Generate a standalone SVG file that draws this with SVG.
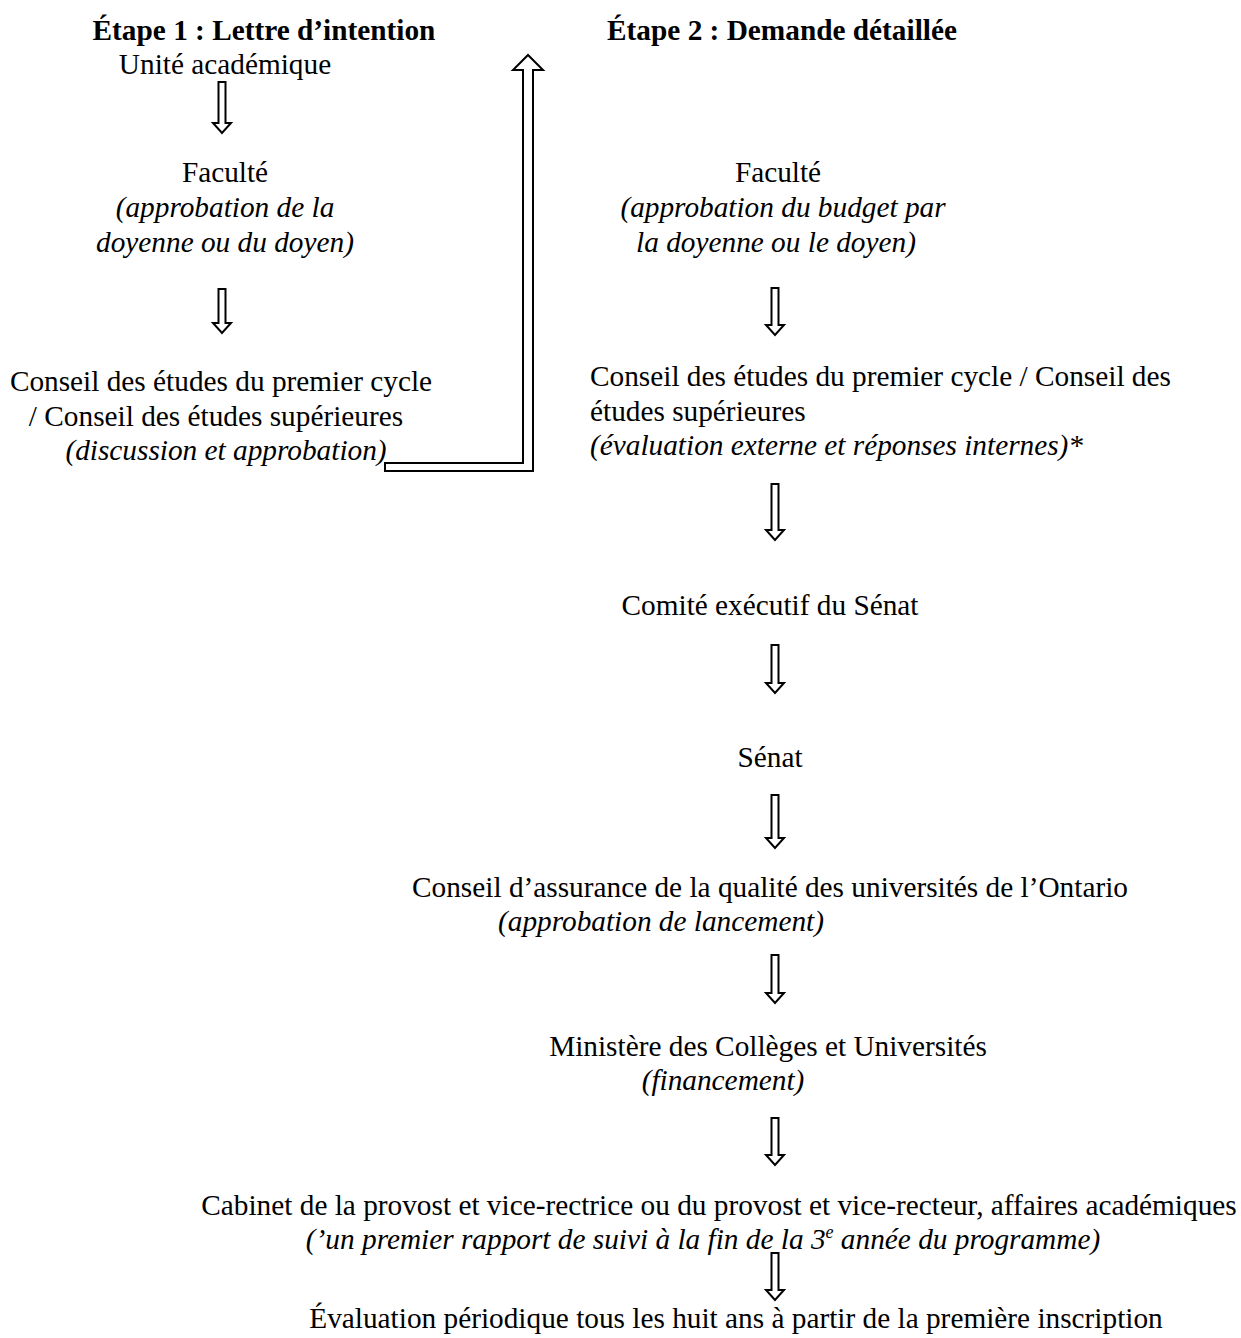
<svg xmlns="http://www.w3.org/2000/svg" width="1241" height="1338" viewBox="0 0 1241 1338">
<style>
text{font-family:"Liberation Serif","Times New Roman",serif;font-size:29.3px;fill:#000}
.b{font-weight:bold}
.i{font-style:italic}
.m{text-anchor:middle}
.arr{fill:#fff;stroke:#000;stroke-width:2;stroke-linejoin:miter}
</style>
<rect width="1241" height="1338" fill="#fff"/>
<g id="title1"><text class="b m" x="264" y="40">Étape 1 : Lettre d’intention</text></g>
<g id="title2"><text class="b m" x="782" y="40">Étape 2 : Demande détaillée</text></g>
<g id="n-unite"><text class="m" x="225" y="74">Unité académique</text></g>
<g id="n-faculte1">
<text class="m" x="225" y="182">Faculté</text>
<text class="m i" x="225" y="217">(approbation de la</text>
<text class="m i" x="225" y="252">doyenne ou du doyen)</text>
</g>
<g id="n-conseil1">
<text class="m" x="221" y="391">Conseil des études du premier cycle</text>
<text class="m" x="216" y="426">/ Conseil des études supérieures</text>
<text class="m i" x="226" y="460">(discussion et approbation)</text>
</g>
<g id="n-faculte2">
<text class="m" x="778" y="182">Faculté</text>
<text class="m i" x="783" y="217">(approbation du budget par</text>
<text class="m i" x="776" y="252">la doyenne ou le doyen)</text>
</g>
<g id="n-conseil2">
<text x="590" y="386">Conseil des études du premier cycle / Conseil des</text>
<text x="590" y="421">études supérieures</text>
<text class="i" x="590" y="455">(évaluation externe et réponses internes)*</text>
</g>
<g id="n-comite"><text class="m" x="770" y="615">Comité exécutif du Sénat</text></g>
<g id="n-senat"><text class="m" x="770" y="767">Sénat</text></g>
<g id="n-cqaa">
<text class="m" x="770" y="897">Conseil d’assurance de la qualité des universités de l’Ontario</text>
<text class="m i" x="661" y="931">(approbation de lancement)</text>
</g>
<g id="n-ministere">
<text class="m" x="768" y="1056">Ministère des Collèges et Universités</text>
<text class="m i" x="723" y="1090">(financement)</text>
</g>
<g id="n-cabinet">
<text class="m" x="719" y="1215">Cabinet de la provost et vice-rectrice ou du provost et vice-recteur, affaires académiques</text>
<text class="m i" x="703" y="1249">(’un premier rapport de suivi à la fin de la 3<tspan font-size="18" dy="-11">e</tspan><tspan dy="11"> année du programme)</tspan></text>
</g>
<g id="n-evaluation"><text class="m" x="736" y="1328">Évaluation périodique tous les huit ans à partir de la première inscription</text></g>
<g id="connectors">
<polygon class="arr" points="218.5,82 225.5,82 225.5,123 231,123 222,133 213,123 218.5,123"/>
<polygon class="arr" points="218.5,289 225.5,289 225.5,323 231,323 222,333 213,323 218.5,323"/>
<polygon class="arr" points="385,463 523,463 523,70 513,70 528,55 543,70 533,70 533,471 385,471"/>
<polygon class="arr" points="771.5,288 778.5,288 778.5,325 784,325 775,335 766,325 771.5,325"/>
<polygon class="arr" points="771.5,484 778.5,484 778.5,530 784,530 775,540 766,530 771.5,530"/>
<polygon class="arr" points="771.5,645 778.5,645 778.5,683 784,683 775,693 766,683 771.5,683"/>
<polygon class="arr" points="771.5,795 778.5,795 778.5,838 784,838 775,848 766,838 771.5,838"/>
<polygon class="arr" points="771.5,955 778.5,955 778.5,993 784,993 775,1003 766,993 771.5,993"/>
<polygon class="arr" points="771.5,1118 778.5,1118 778.5,1155 784,1155 775,1165 766,1155 771.5,1155"/>
<polygon class="arr" points="771.5,1253 778.5,1253 778.5,1290 784,1290 775,1300 766,1290 771.5,1290"/>
</g>
</svg>
